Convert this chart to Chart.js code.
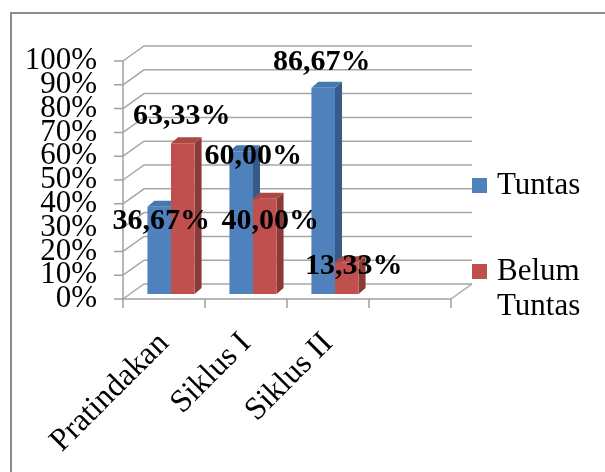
<!DOCTYPE html>
<html>
<head>
<meta charset="utf-8">
<script src="https://cdn.jsdelivr.net/npm/chart.js@4.4.0/dist/chart.umd.min.js"></script>
<style>
  html, body { margin: 0; padding: 0; background: #fff; }
</style>
</head>
<body>
<canvas id="myChart" width="605" height="472"></canvas>
<script>
const categories = ['Pratindakan', 'Siklus I', 'Siklus II', ''];
const tuntas = [36.67, 60.00, 86.67, null];
const belumTuntas = [63.33, 40.00, 13.33, null];
const seriesNames = ['Tuntas', 'Belum Tuntas'];
const yTicks = [0, 10, 20, 30, 40, 50, 60, 70, 80, 90, 100];

// where Excel put each value label, relative to the top centre of its bar
const labelOffsets = [
    [[2, 15], [12, 5], [-1.5, -25]],
    [[-1, -27], [5.5, 22], [7, 4]],
];

const colors = [
    { front: '#4f81bd', side: '#375b88', top: '#4876ae' },
    { front: '#c0504d', side: '#8a3a37', top: '#ad4744' },
];

const FRONT = { dx: -7, dy: 5 };
const BACK = { dx: 14, dy: -10 };
const DEPTH = { dx: 7, dy: -6 };
const SERIF = '"Liberation Serif", "Times New Roman", serif';

const fmt = (v) => v.toFixed(2).replace('.', ',') + '%';

const fake3d = {
    id: 'fake3d',
    beforeDraw(chart) {
        const ctx = chart.ctx;
        ctx.save();
        ctx.strokeStyle = '#8c8c8c';
        ctx.lineWidth = 2;
        ctx.strokeRect(11, 13, 700, 600);
        ctx.restore();
    },
    beforeDatasetsDraw(chart) {
        const { ctx, chartArea: a, scales: { x, y } } = chart;
        ctx.save();
        ctx.strokeStyle = '#a6a6a6';
        ctx.lineWidth = 1.5;
        yTicks.forEach((v) => {
            const py = y.getPixelForValue(v);
            ctx.beginPath();
            ctx.moveTo(a.left + FRONT.dx, py + FRONT.dy);
            ctx.lineTo(a.left + BACK.dx, py + BACK.dy);
            ctx.lineTo(a.right + BACK.dx, py + BACK.dy);
            ctx.stroke();
        });
        const y0 = y.getPixelForValue(0);
        ctx.beginPath();
        ctx.moveTo(a.right + FRONT.dx, y0 + FRONT.dy);
        ctx.lineTo(a.right + BACK.dx, y0 + BACK.dy);
        ctx.stroke();

        // side and top faces of the bars
        chart.data.datasets.forEach((ds, i) => {
            chart.getDatasetMeta(i).data.forEach((bar, j) => {
                if (ds.data[j] == null) return;
                const p = bar.getProps(['x', 'y', 'base', 'width'], true);
                const l = p.x - p.width / 2, r = p.x + p.width / 2;
                ctx.fillStyle = colors[i].side;
                ctx.beginPath();
                ctx.moveTo(r, p.y);
                ctx.lineTo(r + DEPTH.dx, p.y + DEPTH.dy);
                ctx.lineTo(r + DEPTH.dx, p.base + DEPTH.dy);
                ctx.lineTo(r, p.base);
                ctx.closePath();
                ctx.fill();
                ctx.fillStyle = colors[i].top;
                ctx.beginPath();
                ctx.moveTo(l, p.y);
                ctx.lineTo(l + DEPTH.dx, p.y + DEPTH.dy);
                ctx.lineTo(r + DEPTH.dx, p.y + DEPTH.dy);
                ctx.lineTo(r, p.y);
                ctx.closePath();
                ctx.fill();
            });
        });
        ctx.restore();
    },
    afterDatasetsDraw(chart) {
        const { ctx, chartArea: a, scales: { x, y } } = chart;
        ctx.save();
        // front axes
        ctx.strokeStyle = '#a0a0a0';
        ctx.lineWidth = 1.5;
        const fx = a.left + FRONT.dx;
        const y0 = y.getPixelForValue(0) + FRONT.dy;
        const y100 = y.getPixelForValue(100) + FRONT.dy;
        ctx.beginPath();
        ctx.moveTo(fx, y0);
        ctx.lineTo(fx, y100);
        ctx.moveTo(fx, y0);
        ctx.lineTo(a.right + FRONT.dx, y0);
        yTicks.forEach((v) => {
            const py = y.getPixelForValue(v) + FRONT.dy;
            ctx.moveTo(fx - 9, py);
            ctx.lineTo(fx, py);
        });
        const slot = (a.right - a.left) / categories.length;
        for (let k = 0; k <= categories.length; k++) {
            const px = a.left + k * slot + FRONT.dx;
            ctx.moveTo(px, y0);
            ctx.lineTo(px, y0 + 9);
        }
        ctx.stroke();

        // value labels
        ctx.fillStyle = '#000';
        ctx.font = 'bold 30px ' + SERIF;
        ctx.textAlign = 'center';
        ctx.textBaseline = 'middle';
        chart.data.datasets.forEach((ds, i) => {
            chart.getDatasetMeta(i).data.forEach((bar, j) => {
                if (ds.data[j] == null) return;
                const off = labelOffsets[i][j];
                ctx.fillText(fmt(ds.data[j]), bar.x + off[0], bar.y + off[1]);
            });
        });

        // legend
        const lx = a.right + BACK.dx;
        const rows = [
            { color: colors[0].front, top: 178, lines: ['Tuntas'] },
            { color: colors[1].front, top: 264, lines: ['Belum', 'Tuntas'] },
        ];
        ctx.font = '31px ' + SERIF;
        ctx.textAlign = 'left';
        ctx.textBaseline = 'alphabetic';
        rows.forEach((row) => {
            ctx.fillStyle = row.color;
            ctx.fillRect(lx, row.top, 15, 15);
            ctx.fillStyle = '#000';
            row.lines.forEach((t, n) => ctx.fillText(t, lx + 25, row.top + 16 + n * 35));
        });
        ctx.restore();
    },
};

const ctx = document.getElementById('myChart').getContext('2d');
new Chart(ctx, {
    type: 'bar',
    data: {
        labels: categories,
        datasets: [
            { label: seriesNames[0], data: tuntas, backgroundColor: colors[0].front },
            { label: seriesNames[1], data: belumTuntas, backgroundColor: colors[1].front },
        ],
    },
    options: {
        responsive: false,
        animation: false,
        devicePixelRatio: 1,
        categoryPercentage: 0.575,
        barPercentage: 1,
        layout: { padding: { left: 0, top: 56, right: 147, bottom: 0 } },
        plugins: {
            legend: { display: false },
            tooltip: { enabled: false },
        },
        scales: {
            x: {
                grid: { display: false, drawTicks: false },
                border: { display: false },
                ticks: {
                    autoSkip: false,
                    minRotation: 45,
                    maxRotation: 45,
                    padding: 31,
                    labelOffset: -7,
                    color: '#000',
                    font: { family: SERIF, size: 32 },
                },
                afterFit: (scale) => { scale.height = 472 - 294; },
            },
            y: {
                min: 0,
                max: 100,
                grid: { display: false, drawTicks: false },
                border: { display: false },
                afterFit: (scale) => { scale.width = 130; },
                afterBuildTicks: (scale) => { scale.ticks = yTicks.map((v) => ({ value: v })); },
                ticks: {
                    autoSkip: false,
                    padding: 33,
                    labelOffset: 5,
                    color: '#000',
                    font: { family: SERIF, size: 31 },
                    callback: (v) => v + '%',
                },
            },
        },
    },
    plugins: [fake3d],
});
</script>
</body>
</html>
